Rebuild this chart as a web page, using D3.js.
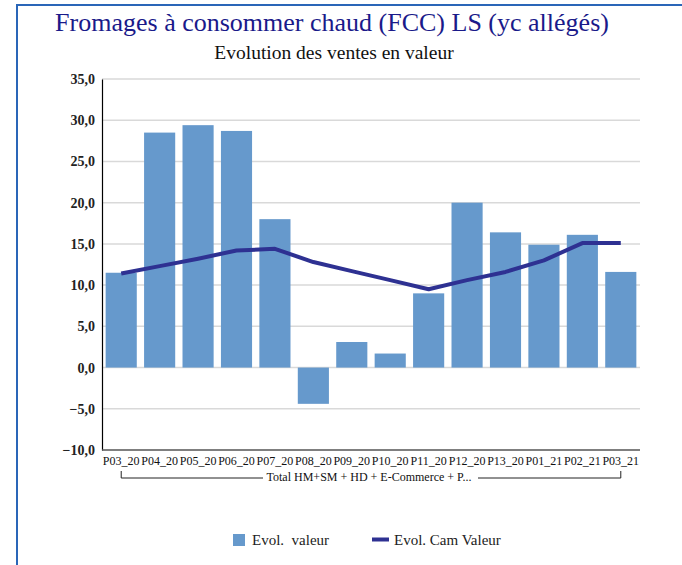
<!DOCTYPE html>
<html>
<head>
<meta charset="utf-8">
<script src="https://cdn.jsdelivr.net/npm/d3@7"></script>
<style>
  html, body { margin: 0; padding: 0; background: #fff; }
  svg { display: block; }
</style>
</head>
<body>
<svg id="chart" width="682" height="565"></svg>
<script>
// Periods, monthly value growth (bars) and cumulative annual growth (line)
const periods = ["P03_20","P04_20","P05_20","P06_20","P07_20","P08_20","P09_20","P10_20","P11_20","P12_20","P13_20","P01_21","P02_21","P03_21"];
const evolValeur = [11.5, 28.5, 29.4, 28.7, 18.0, -4.4, 3.1, 1.7, 9.0, 20.0, 16.4, 14.9, 16.1, 11.6];
const evolCamValeur = [11.4, 12.3, 13.2, 14.2, 14.4, 12.8, 11.7, 10.6, 9.5, 10.6, 11.6, 13.0, 15.1, 15.1];
const yTicks = [-10, -5, 0, 5, 10, 15, 20, 25, 30, 35];
const groupLabel = "Total HM+SM + HD + E-Commerce + P...";

const svg = d3.select("#chart");
const serif = "'Liberation Serif', 'DejaVu Serif', serif";

// Frame lines
svg.append("line").attr("x1", 17).attr("x2", 682).attr("y1", 5).attr("y2", 5)
  .attr("stroke", "#2a66b8").attr("stroke-width", 2);
svg.append("line").attr("x1", 17).attr("x2", 17).attr("y1", 4).attr("y2", 565)
  .attr("stroke", "#2a66b8").attr("stroke-width", 2);

// Titles
svg.append("text").attr("x", 332).attr("y", 31).attr("text-anchor", "middle")
  .attr("font-family", serif).attr("font-size", 26).attr("fill", "#1a1a8a")
  .text("Fromages à consommer chaud (FCC) LS (yc allégés)");
svg.append("text").attr("x", 334).attr("y", 59).attr("text-anchor", "middle")
  .attr("font-family", serif).attr("font-size", 19.5).attr("fill", "#111")
  .text("Evolution des ventes en valeur");

const plotLeft = 102, plotRight = 640, plotTop = 79, plotBottom = 450;
const x = d3.scaleBand().domain(periods).range([plotLeft, plotRight]).paddingInner(0.19).paddingOuter(0.095);
const xc = d => x(d) + x.bandwidth() / 2;
const y = d3.scaleLinear().domain([-10, 35]).range([plotBottom, plotTop]);

// Gridlines
svg.append("g").selectAll("line").data(yTicks.filter(t => t > -10)).join("line")
  .attr("x1", plotLeft).attr("x2", plotRight)
  .attr("y1", d => y(d)).attr("y2", d => y(d))
  .attr("stroke", "#d9d9d9").attr("stroke-width", 1.5);

// Y axis
const yAxis = d3.axisLeft(y).tickValues(yTicks).tickSize(0).tickPadding(7)
  .tickFormat(d => d3.format(".1f")(d).replace(".", ","));
const gy = svg.append("g").attr("transform", `translate(${plotLeft},0)`).call(yAxis);
gy.select(".domain").attr("stroke", "#000").attr("stroke-width", 1.2);
gy.selectAll("text").attr("font-family", serif).attr("font-size", 14)
  .attr("font-weight", "bold").attr("fill", "#222");

// Bars
svg.append("g").selectAll("rect").data(periods).join("rect")
  .attr("x", d => x(d))
  .attr("width", x.bandwidth())
  .attr("y", (d, i) => y(Math.max(0, evolValeur[i])))
  .attr("height", (d, i) => Math.abs(y(evolValeur[i]) - y(0)))
  .attr("fill", "#6699cc");

// Bottom axis line
svg.append("line").attr("x1", plotLeft).attr("x2", plotRight).attr("y1", plotBottom).attr("y2", plotBottom)
  .attr("stroke", "#555").attr("stroke-width", 1.5);

// Cumulative line
const line = d3.line().x((d, i) => xc(periods[i])).y(d => y(d));
svg.append("path").datum(evolCamValeur).attr("d", line)
  .attr("fill", "none").attr("stroke", "#2e3192").attr("stroke-width", 4)
  .attr("stroke-linejoin", "round");

// X axis labels
const xAxis = d3.axisBottom(x).tickSize(0).tickPadding(6);
const gx = svg.append("g").attr("transform", `translate(0,${plotBottom})`).call(xAxis);
gx.select(".domain").remove();
gx.selectAll("text").attr("font-family", serif).attr("font-size", 12).attr("fill", "#111");

// Group bracket
const bx1 = xc(periods[0]), bx2 = xc(periods[periods.length - 1]);
const by = 478;
const bracket = svg.append("g").attr("stroke", "#222").attr("stroke-width", 1).attr("fill", "none");
bracket.append("path").attr("d", `M${bx1},471V${by}H263`);
bracket.append("path").attr("d", `M478,${by}H${bx2}V471`);
svg.append("text").attr("x", 369).attr("y", 481).attr("text-anchor", "middle")
  .attr("font-family", serif).attr("font-size", 12).attr("fill", "#111")
  .text(groupLabel);

// Legend
const lg = svg.append("g");
lg.append("rect").attr("x", 233).attr("y", 534).attr("width", 12).attr("height", 12).attr("fill", "#6699cc");
lg.append("text").attr("x", 252).attr("y", 545).attr("font-family", serif).attr("font-size", 15)
  .attr("fill", "#222").attr("xml:space", "preserve").text("Evol.  valeur");
lg.append("line").attr("x1", 372).attr("x2", 389).attr("y1", 539.5).attr("y2", 539.5)
  .attr("stroke", "#2e3192").attr("stroke-width", 4);
lg.append("text").attr("x", 394).attr("y", 545).attr("font-family", serif).attr("font-size", 15)
  .attr("fill", "#222").text("Evol. Cam Valeur");
</script>
</body>
</html>
